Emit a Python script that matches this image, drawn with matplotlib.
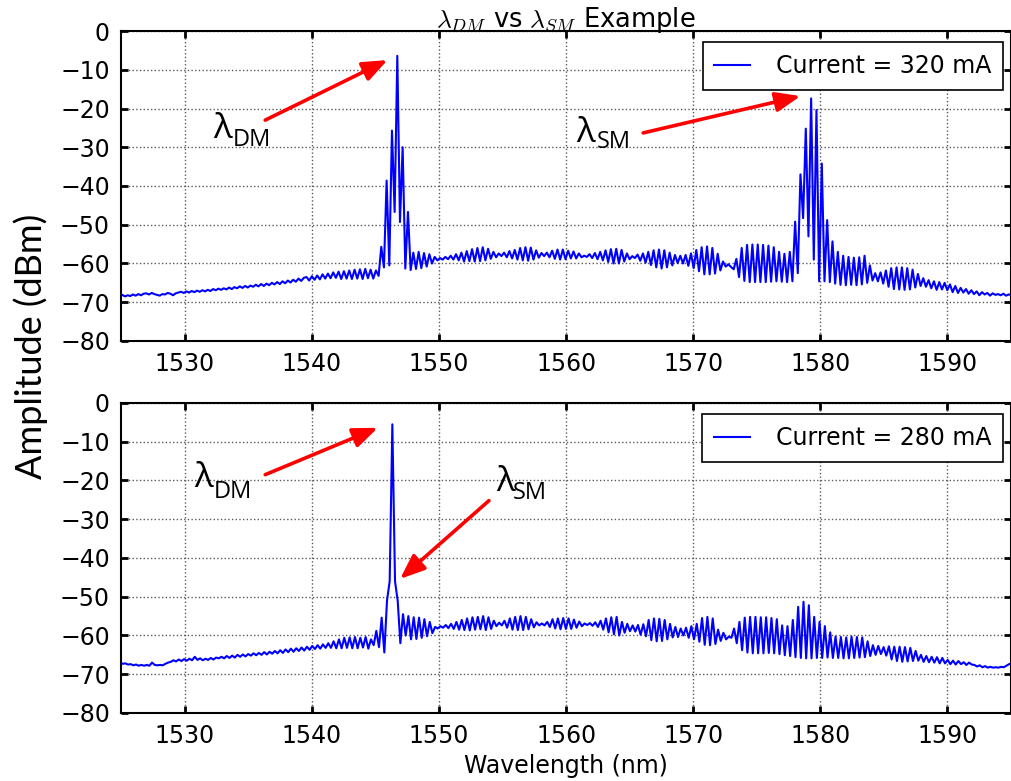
import numpy as np
import matplotlib.pyplot as plt

plt.rcParams['mathtext.fontset'] = 'cm'
plt.rcParams['axes.unicode_minus'] = True

# OSA traces, sampled every 0.21 nm (half a Fabry-Perot ripple period)
step_nm = 0.21

# 320 mA trace, first sample at 1524.89 nm
wl0_320 = 1524.89
amp_320 = [
    -68.4, -68.1, -68.5, -68.2, -68.4, -68.0, -68.3, -67.9, -68.2, -67.8,
    -67.7, -68.0, -67.6, -67.9, -68.1, -68.3, -67.9, -68.0, -67.6, -67.8,
    -68.2, -67.7, -67.5, -67.3, -67.6, -67.2, -67.5, -67.1, -67.4, -67.0,
    -67.3, -66.9, -67.2, -66.8, -67.1, -66.6, -66.9, -66.5, -66.8, -66.4,
    -66.7, -66.2, -66.6, -66.1, -66.4, -65.9, -66.3, -65.8, -66.2, -65.7,
    -66.0, -65.5, -65.9, -65.3, -65.8, -65.2, -65.6, -65.0, -65.4, -64.8,
    -65.3, -64.6, -65.1, -64.4, -64.9, -64.2, -64.7, -63.9, -64.5, -63.7,
    -63.5, -64.4, -63.3, -64.2, -63.1, -64.1, -62.8, -63.9, -62.6, -63.8,
    -62.3, -63.7, -62.1, -64.0, -62.0, -63.9, -61.8, -64.0, -61.6, -63.9,
    -61.5, -64.0, -61.4, -63.8, -61.6, -63.9, -61.8, -63.2, -55.7, -61.0,
    -38.6, -60.5, -25.7, -46.7, -6.4, -49.3, -30.0, -61.3, -46.7, -61.7,
    -57.2, -61.4, -57.0, -61.2, -57.3, -60.8, -57.6, -60.0, -58.3, -59.2,
    -58.6, -59.0, -58.3, -58.9, -58.0, -59.0, -57.6, -59.2, -57.2, -59.5,
    -56.8, -59.4, -56.3, -59.5, -56.0, -59.4, -55.8, -59.2, -56.2, -58.8,
    -57.0, -58.4, -57.4, -58.1, -57.2, -58.4, -56.8, -58.7, -56.5, -59.0,
    -56.0, -59.2, -55.8, -59.3, -55.9, -59.0, -56.6, -58.5, -57.3, -58.1,
    -57.2, -58.4, -56.7, -58.8, -56.4, -59.0, -56.4, -58.9, -56.7, -58.7,
    -56.9, -58.7, -57.4, -58.4, -58.0, -58.3, -57.6, -58.6, -57.3, -58.9,
    -57.0, -59.2, -56.6, -59.6, -56.3, -60.0, -56.2, -60.0, -56.5, -59.5,
    -57.4, -58.9, -58.1, -58.6, -57.7, -59.3, -57.4, -59.8, -57.0, -60.4,
    -56.6, -61.0, -56.4, -61.3, -56.6, -61.0, -57.2, -60.5, -57.8, -59.9,
    -58.0, -60.0, -57.8, -60.6, -57.4, -61.2, -56.5, -62.0, -55.8, -62.8,
    -55.6, -62.8, -56.0, -62.6, -57.5, -61.8, -59.5, -60.8, -60.2, -60.9,
    -61.5, -58.8, -63.5, -56.0, -64.5, -55.2, -64.8, -55.1, -64.8, -55.1,
    -64.8, -55.2, -64.8, -55.4, -64.7, -55.8, -64.6, -57.0, -64.7, -57.5,
    -64.8, -57.0, -64.6, -49.2, -62.5, -37.0, -48.3, -25.2, -53.0, -17.4,
    -59.0, -20.4, -64.6, -34.2, -64.6, -48.8, -64.8, -54.3, -65.2, -57.0,
    -65.5, -58.0, -65.6, -58.3, -65.5, -58.5, -65.6, -58.4, -65.4, -58.0,
    -65.0, -60.5, -64.4, -62.5, -64.6, -62.3, -65.2, -61.8, -66.0, -61.2,
    -66.6, -61.0, -66.7, -61.0, -66.8, -61.2, -66.7, -61.6, -66.2, -62.7,
    -65.8, -63.8, -66.0, -64.3, -66.4, -64.6, -66.8, -64.8, -66.7, -65.0,
    -66.9, -65.4, -67.4, -65.8, -67.6, -66.3, -67.5, -66.6, -67.8, -66.9,
    -67.9, -67.2, -68.2, -67.4, -68.0, -67.6, -68.3, -67.7, -68.1, -67.9,
    -68.2, -67.8, -68.3, -68.0, -68.1, -68.0,
]

# 280 mA trace, first sample at 1524.50 nm
wl0_280 = 1524.50
amp_280 = [
    -67.1, -67.2, -67.0, -67.3, -67.2, -67.5, -67.4, -67.7, -67.5, -67.8,
    -67.6, -67.8, -67.6, -67.8, -67.0, -67.6, -67.7, -67.6, -67.7, -67.3,
    -67.0, -66.8, -66.4, -66.7, -66.2, -66.6, -66.1, -66.5, -66.0, -66.4,
    -65.5, -66.3, -65.9, -66.4, -66.0, -66.3, -65.8, -66.2, -65.7, -65.9,
    -65.5, -65.9, -65.3, -65.8, -65.2, -65.7, -65.0, -65.5, -64.9, -65.4,
    -64.8, -65.2, -64.6, -65.1, -64.5, -65.0, -64.3, -64.9, -64.2, -64.7,
    -64.0, -64.6, -63.8, -64.5, -63.6, -64.3, -63.4, -64.2, -63.3, -64.0,
    -63.1, -63.9, -62.9, -63.7, -62.7, -63.5, -62.5, -63.4, -62.3, -63.2,
    -62.0, -63.2, -61.5, -63.3, -61.0, -63.3, -60.6, -63.2, -60.5, -63.3,
    -60.4, -63.3, -60.6, -63.1, -60.4, -63.4, -61.0, -62.5, -58.8, -63.0,
    -55.4, -64.4, -51.0, -46.0, -5.5, -46.0, -51.0, -62.0, -54.5, -60.0,
    -55.0, -61.0, -55.3, -60.9, -55.4, -60.6, -55.8, -60.2, -56.5, -59.4,
    -57.8, -58.2, -57.6, -58.0, -57.3, -58.1, -57.0, -58.3, -56.5, -58.5,
    -56.0, -58.6, -55.6, -58.7, -55.3, -58.5, -55.2, -58.4, -55.0, -58.6,
    -55.3, -58.3, -56.2, -57.6, -56.7, -57.4, -56.2, -58.0, -55.6, -58.5,
    -55.2, -58.6, -55.0, -58.6, -55.2, -58.4, -55.8, -57.9, -56.6, -57.4,
    -56.9, -57.4, -56.5, -57.8, -55.8, -58.2, -55.6, -58.4, -55.5, -58.3,
    -55.6, -58.3, -55.9, -58.0, -56.4, -57.6, -56.9, -57.3, -56.8, -57.5,
    -56.6, -57.8, -56.2, -58.5, -55.6, -59.2, -55.3, -59.7, -55.2, -60.0,
    -56.5, -59.3, -57.0, -58.9, -57.4, -59.0, -57.3, -59.8, -57.1, -60.2,
    -56.0, -61.2, -55.6, -61.5, -55.7, -61.4, -56.0, -61.0, -57.0, -60.5,
    -57.8, -60.4, -58.2, -60.0, -58.0, -60.6, -57.6, -61.0, -57.0, -61.6,
    -55.5, -62.4, -55.2, -62.5, -55.6, -62.2, -58.5, -61.4, -59.3, -61.0,
    -60.3, -60.6, -58.2, -62.0, -56.5, -63.8, -55.4, -64.4, -55.2, -64.6,
    -55.2, -64.6, -55.3, -64.6, -55.3, -64.5, -55.5, -64.6, -55.8, -64.8,
    -57.4, -65.1, -57.6, -65.3, -56.0, -65.6, -52.6, -65.8, -51.3, -65.9,
    -52.2, -65.9, -55.2, -65.8, -56.5, -65.8, -57.6, -65.7, -59.2, -65.8,
    -60.3, -65.8, -60.4, -65.9, -60.5, -65.9, -60.3, -65.8, -60.4, -65.7,
    -60.5, -65.6, -61.5, -65.3, -62.5, -65.0, -62.7, -64.8, -63.0, -65.2,
    -62.8, -66.2, -62.9, -66.6, -62.9, -66.8, -63.0, -66.7, -63.2, -66.6,
    -64.0, -66.5, -65.0, -66.8, -65.3, -66.9, -65.5, -67.0, -65.6, -67.2,
    -65.8, -67.2, -66.3, -67.4, -66.5, -67.5, -66.6, -67.4, -66.9, -67.6,
    -67.0, -67.5, -67.6, -68.0, -67.7, -68.2, -67.9, -68.3, -68.1, -68.3,
    -68.2, -68.3, -68.1, -68.2, -67.8, -67.4, -67.2,
]

currents = ['320', '280']
x_ticks = [1530, 1540, 1550, 1560, 1570, 1580, 1590]
y_ticks = [0, -10, -20, -30, -40, -50, -60, -70, -80]

fig = plt.figure(figsize=(10.12, 7.81), dpi=100)
ax1 = fig.add_axes([0.1196, 0.5634, 0.8794, 0.3969])
ax2 = fig.add_axes([0.1196, 0.0871, 0.8794, 0.3969])

traces = [(ax1, wl0_320, amp_320), (ax2, wl0_280, amp_280)]
for (ax, wl0, amp), cur in zip(traces, currents):
    wl = wl0 + step_nm * np.arange(len(amp))
    ax.plot(wl, amp, color='#0000ff', lw=1.5, label='Current = %s mA' % cur)
    ax.set_xlim(1525, 1595)
    ax.set_ylim(-80, 0)
    ax.set_xticks(x_ticks)
    ax.set_yticks(y_ticks)
    ax.grid(True, color='0.35', linestyle=':', linewidth=1)
    ax.tick_params(direction='in', length=5, width=2, top=True, right=True,
                   labelsize=17, pad=8)
    for sp in ax.spines.values():
        sp.set_linewidth(1.5)
    leg = ax.legend(loc='upper right', bbox_to_anchor=(0.991, 0.964),
                    borderaxespad=0, fontsize=17, handlelength=1.5,
                    handletextpad=1.1, fancybox=False, framealpha=1,
                    borderpad=0.5)
    leg.get_frame().set_edgecolor('black')
    leg.get_frame().set_linewidth(1.2)

ax1.set_title(r'$\lambda_{DM}$ vs $\lambda_{SM}$ Example', fontsize=18.5, pad=3)
ax2.set_xlabel('Wavelength (nm)', fontsize=17, labelpad=4)
fig.text(0.030, 0.556, 'Amplitude (dBm)', rotation=90, ha='center',
         va='center', fontsize=26, family=['Lato', 'Open Sans', 'DejaVu Sans'])

# mode labels with red arrows
lam_font = ['Open Sans', 'DejaVu Sans']
labels = [
    (ax1, 'DM', (1532.27, -27.6), (1533.76, -29.7), (1536.34, -23.0), (1545.96, -7.5)),
    (ax1, 'SM', (1560.83, -28.6), (1562.39, -30.2), (1566.07, -26.3), (1578.44, -16.8)),
    (ax2, 'DM', (1530.78, -21.8), (1532.27, -24.4), (1536.34, -18.5), (1545.2, -6.4)),
    (ax2, 'SM', (1554.49, -22.6), (1555.82, -24.9), (1553.94, -25.2), (1546.95, -45.4)),
]
for ax, sub, lam_xy, sub_xy, tail, head in labels:
    ax.text(lam_xy[0], lam_xy[1], u'\u03bb', fontsize=25, family=lam_font,
            ha='left', va='baseline')
    ax.text(sub_xy[0], sub_xy[1], sub, fontsize=17, family=lam_font,
            ha='left', va='baseline')
    ax.annotate('', xy=head, xytext=tail,
                arrowprops=dict(arrowstyle='-|>,head_length=0.75,head_width=0.3',
                                color='red', lw=2.6, mutation_scale=20,
                                shrinkA=0, shrinkB=0))

fig.savefig('out.png', dpi=100)
